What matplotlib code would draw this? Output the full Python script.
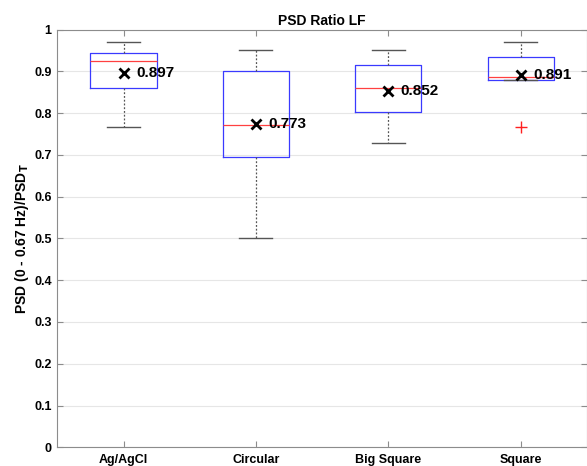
import matplotlib
matplotlib.use("Agg")
import matplotlib.pyplot as plt

plt.rcParams['font.family'] = ['Liberation Sans', 'DejaVu Sans']

categories = ["Ag/AgCl", "Circular", "Big Square", "Square"]
q1 = [0.859, 0.694, 0.802, 0.880]
med = [0.924, 0.772, 0.859, 0.887]
q3 = [0.944, 0.900, 0.914, 0.935]
whislo = [0.767, 0.501, 0.728, 0.878]
whishi = [0.971, 0.950, 0.950, 0.969]
outliers = [[], [], [], [0.767]]
means = [0.897, 0.773, 0.852, 0.891]
mean_labels = ["0.897", "0.773", "0.852", "0.891"]
yticks = [0, 0.1, 0.2, 0.3, 0.4, 0.5, 0.6, 0.7, 0.8, 0.9, 1]
ytick_labels = ["0", "0.1", "0.2", "0.3", "0.4", "0.5", "0.6", "0.7", "0.8", "0.9", "1"]

fig = plt.figure(figsize=(5.87, 4.66), dpi=100)
ax = fig.add_axes([57.3/587, 1-447.3/466, (587-57.3)/587, (447.3-29.5)/466])

stats = []
for i in range(len(categories)):
    stats.append(dict(med=med[i], q1=q1[i], q3=q3[i], whislo=whislo[i],
                      whishi=whishi[i], fliers=outliers[i], label=categories[i]))

positions = list(range(1, len(categories) + 1))
ax.bxp(stats, positions=positions, widths=0.5, showfliers=False,
       boxprops=dict(color='#3a3aff', linewidth=0.9),
       medianprops=dict(color='#ff4040', linewidth=0.9),
       whiskerprops=dict(color='#555555', linestyle=(0, (1.5, 1.5)), linewidth=0.9),
       capprops=dict(color='#555555', linewidth=1.0),
       capwidths=0.25)

for p, fl in zip(positions, outliers):
    if fl:
        ax.plot([p] * len(fl), fl, linestyle='none', marker='+', color='#ff2020',
                markersize=9, markeredgewidth=1.0, zorder=4)

ax.plot(positions, means, linestyle='none', marker='x', color='black',
        markersize=6.5, markeredgewidth=2, zorder=5)
for p, m, lab in zip(positions, means, mean_labels):
    ax.annotate(lab, (p, m), xytext=(9, 0), textcoords='offset points',
                ha='left', va='center', fontsize=11, fontweight='bold', zorder=6)

ax.set_xlim(0.5, 4.5)
ax.set_ylim(0, 1)
ax.set_yticks(yticks)
ax.set_yticklabels(ytick_labels)
ax.set_xticks(positions)
ax.set_xticklabels(categories)
ax.grid(axis='y', color='#e6e6e6', linewidth=0.8)
ax.set_axisbelow(True)

for s in ax.spines.values():
    s.set_color('#8c8c8c')
    s.set_linewidth(0.8)
ax.tick_params(direction='in', top=True, right=True, color='#8c8c8c',
               length=4, width=0.8, labelsize=9)
ax.tick_params(axis='y', pad=4)
ax.tick_params(axis='x', pad=5)
for lbl in ax.get_xticklabels() + ax.get_yticklabels():
    lbl.set_fontweight('bold')

ax.set_title("PSD Ratio LF", fontsize=10, fontweight='bold', pad=3)
ax.set_ylabel("PSD (0 - 0.67 Hz)/PSD$_\\mathbf{T}$", fontsize=10, fontweight='bold', labelpad=2)

fig.savefig("out.png", dpi=100)
